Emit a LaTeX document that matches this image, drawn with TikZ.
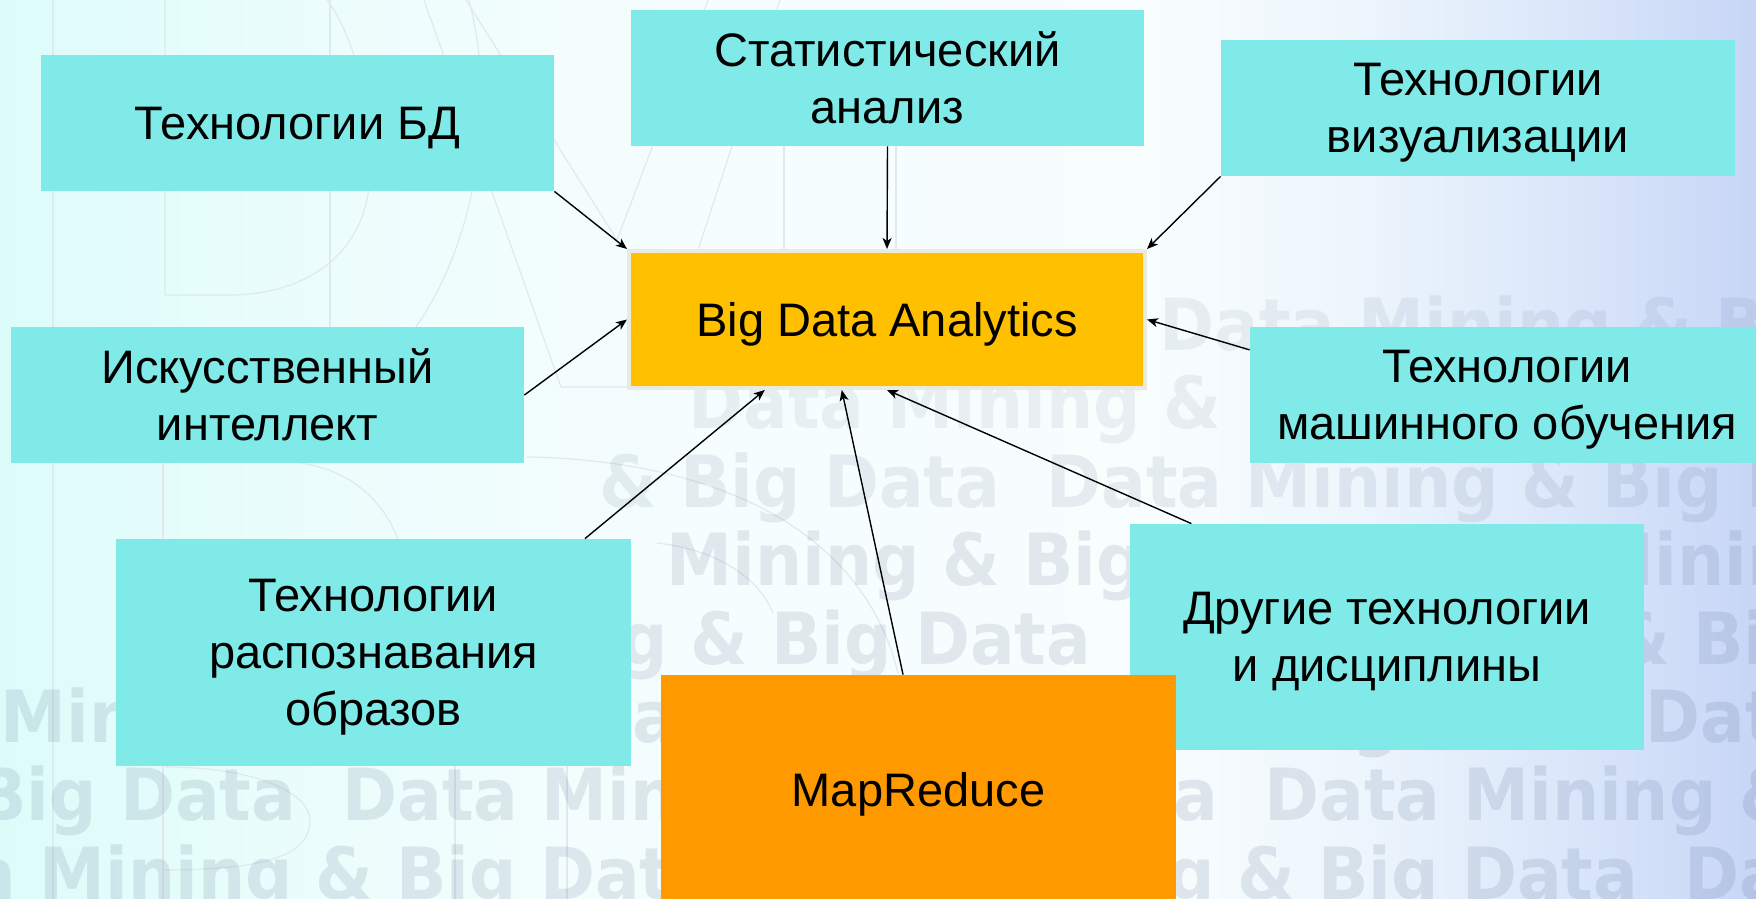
\documentclass[tikz,border=0pt]{standalone}
\usepackage{fontspec}
\setmainfont{Liberation Sans}
\newfontfamily\wmfont[FakeStretch=0.92]{DejaVu Sans}
\usetikzlibrary{arrows.meta,calc}

\definecolor{boxcyan}{RGB}{128,234,232}
\definecolor{bigorange}{RGB}{255,192,0}
\definecolor{mrorange}{RGB}{255,153,0}
\definecolor{bigrim}{RGB}{236,233,225}
\definecolor{wmink}{RGB}{32,56,96}
\definecolor{trace}{RGB}{224,233,238}

% slide background: mint on the left, white in the middle, pale blue on the right
\pgfdeclarehorizontalshading{slidebg}{100bp}{%
  rgb(0bp)=(0.863,0.988,0.980);
  rgb(25bp)=(0.863,0.988,0.980);
  rgb(33.5bp)=(0.918,0.992,0.988);
  rgb(42bp)=(0.957,0.992,0.996);
  rgb(57.7bp)=(0.973,0.992,0.996);
  rgb(63.4bp)=(0.933,0.965,0.992);
  rgb(69.1bp)=(0.863,0.910,0.980);
  rgb(75bp)=(0.784,0.839,0.969);
  rgb(100bp)=(0.784,0.839,0.969)}

\newcommand\wmstring{Data Mining \& Big Data\ \ Data Mining \& Big Data\ \ Data Mining \& Big Data\ \ Data Mining \& Big Data}
% one watermark row: name, left clip, start x, baseline, opacity
\newcommand\wmline[5]{%
  \begin{scope}
    \clip (#2,#4-64) rectangle (1756,#4+22);
    \node[wmtext,text opacity=#5] (#1) at (#3,#4) {\wmstring};
  \end{scope}}

\begin{document}
\begin{tikzpicture}[x=0.5pt,y=-0.5pt,
  wmtext/.style={anchor=base west,inner sep=0pt,text=wmink,
    font=\wmfont\bfseries\fontsize{36pt}{40pt}\selectfont},
  tracer/.style={draw=trace,line width=0.6pt},
  label font/.style={font=\fontsize{23.5pt}{28.5pt}\selectfont,text depth=0pt},
  one line/.style={text height=16.8pt},
  tech/.style={fill=boxcyan,inner sep=0pt,align=center,text=black,label font},
  core/.style={fill=bigorange,draw=bigrim,line width=2pt,inner sep=0pt,
    align=center,label font,one line,
    minimum width=258pt,minimum height=68.5pt},
  engine/.style={fill=mrorange,inner sep=0pt,align=center,label font,one line},
  feed/.style={draw=black,line width=0.7pt,
    -{Stealth[length=5.5pt,width=4.5pt,inset=1.5pt]}}]

\useasboundingbox (0,0) rectangle (1756,899);
\shade[shading=slidebg] (0,0) rectangle (1756,899);

% faint letter outlines in the background
\draw[tracer] (53,0) -- (53,899);
\draw[tracer] (165,0) -- (165,295) -- (229,295)
  .. controls (310,295) and (370,250) .. (370,170)
  .. controls (370,90) and (350,30) .. (327,0);
\draw[tracer] (330,0) -- (330,327);
\draw[tracer] (424,0) -- (561,387) -- (629,387);
\draw[tracer] (469,0) .. controls (500,120) and (470,250) .. (416,327);
\draw[tracer] (466,0) -- (617,240) -- (708,0);
\draw[tracer] (780,0) -- (698,250);
\draw[tracer] (784,146) -- (784,249);
\draw[tracer] (896,146) -- (896,249);
\draw[tracer] (163,463) -- (163,899);
\draw[tracer] (300,463) .. controls (350,470) and (385,500) .. (400,545);
\draw[tracer] (527,457) .. controls (700,460) and (860,520) .. (898,673);
\draw[tracer] (657,543) .. controls (720,550) and (760,580) .. (773,613);
\draw[tracer] (165,767) .. controls (260,767) and (310,795) .. (310,820)
  .. controls (310,850) and (280,870) .. (165,870);
\draw[tracer] (455,766) -- (455,899);
\draw[tracer] (567,766) -- (567,899);

% watermark text
\wmline{wmA}{1150}{1159}{350}{0.07}
\wmline{wmB}{680}{688}{428}{0.07}
\wmline{wmC}{585}{124}{507}{0.085}
\wmline{wmD}{650}{467}{585}{0.10}
\wmline{wmE}{618}{215}{664}{0.10}
\wmline{wmF}{0}{-199}{742}{0.11}
\wmline{wmG}{0}{-580}{820}{0.11}
\wmline{wmH}{0}{-160}{899}{0.11}

% boxes
\node[tech,one line,minimum width=256.5pt,minimum height=68pt] (bd) at (297.5,123) {Технологии БД};
\node[tech,minimum width=256.5pt,minimum height=68pt] (stat) at (887.5,78) {Статистический\\анализ};
\node[tech,minimum width=257pt,minimum height=68pt] (viz) at (1478,108) {Технологии\\визуализации};
\node[tech,minimum width=256.5pt,minimum height=68pt] (ai) at (267.5,395) {Искусственный\\интеллект};
\node[tech,minimum width=257pt,minimum height=68pt] (ml) at (1507,395) {Технологии\\машинного обучения};
\node[tech,minimum width=257.5pt,minimum height=113.5pt] (pat) at (373.5,652.5) {Технологии\\распознавания\\образов};
\node[tech,minimum width=257pt,minimum height=113pt] (other) at (1387,637) {Другие технологии\\и дисциплины};
\node[engine,minimum width=257.5pt,minimum height=115pt] (mr) at (918.5,790) {MapReduce};
\node[core] (big) at (887,319.5) {Big Data Analytics};

% connectors into the central box
\draw[feed] (bd.south east) -- (big.north west);
\draw[feed] (stat.south) -- (big.north);
\draw[feed] (viz.south west) -- (big.north east);
\draw[feed] (ai.east) -- (big.west);
\draw[feed] ($(ml.north west)!0.17!(ml.south west)$) -- (big.east);
\draw[feed] ($(pat.north west)!0.91!(pat.north east)$) -- ($(big.south west)!0.265!(big.south east)$);
\draw[feed] ($(mr.north west)!0.47!(mr.north east)$) -- ($(big.south west)!0.413!(big.south east)$);
\draw[feed] ($(other.north west)!0.12!(other.north east)$) -- (big.south);
\end{tikzpicture}
\end{document}
